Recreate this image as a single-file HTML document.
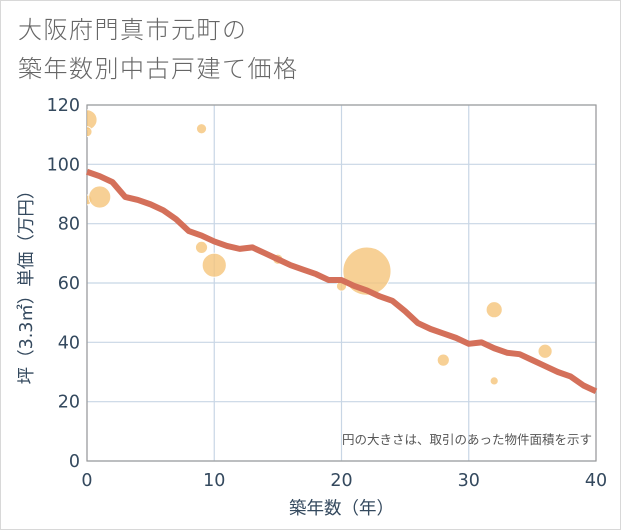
<!DOCTYPE html>
<html><head><meta charset="utf-8"><style>
body{margin:0;background:#fff;font-family:"Liberation Sans","Noto Sans CJK JP",sans-serif;}
#wrap{position:relative;width:619px;height:528px;overflow:hidden;border:1px solid #d8d8d8;}
.title{position:absolute;left:17px;font-size:24px;color:#666;letter-spacing:1.5px;font-family:"Noto Sans CJK JP",sans-serif;font-weight:300;}
</style></head><body>
<div id="wrap">
<div class="title" style="top:9px">大阪府門真市元町の</div>
<div class="title" style="top:48px">築年数別中古戸建て価格</div>
<svg id="svg" width="621" height="530" style="position:absolute;left:-1px;top:-1px"></svg>
</div>
<script>
const lineYears=[0,1,2,3,4,5,6,7,8,9,10,11,12,13,14,15,16,17,18,19,20,21,22,23,24,25,26,27,28,29,30,31,32,33,34,35,36,37,38,39,40];
const linePrices=[97.5,96,94,89,88,86.5,84.5,81.5,77.5,76,74,72.5,71.5,72,70,68,66,64.5,63,61,61,59,57.5,55.5,54,50.5,46.5,44.5,43,41.5,39.5,40,38,36.5,36,34,32,30,28.5,25.5,23.5];
const bubbleYears=[0,0,0,1,9,9,10,15,20,22,28,32,32,36];
const bubblePrices=[115,111,88,89,112,72,66,68,59,64,34,51,27,37];
const bubbleSizes=[10,5,5,11,5,6,12,5,5,24,6,8,4,7];
const xTicks=[0,10,20,30,40];
const yTicks=[0,20,40,60,80,100,120];
const NS="http://www.w3.org/2000/svg";
const svg=document.getElementById('svg');
const X0=87,X1=596,Y0=461,Y1=105;
const sx=v=>X0+(v-0)/40*(X1-X0);
const sy=v=>Y0-(v-0)/120*(Y0-Y1);
const TF='"DejaVu Sans","Noto Sans CJK JP",sans-serif';
function el(t,a){const e=document.createElementNS(NS,t);for(const k in a)e.setAttribute(k,a[k]);svg.appendChild(e);return e;}
const clip=el('clipPath',{id:'pc'});
const cr=document.createElementNS(NS,'rect');cr.setAttribute('x',X0);cr.setAttribute('y',Y1);cr.setAttribute('width',X1-X0);cr.setAttribute('height',Y0-Y1);clip.appendChild(cr);
yTicks.forEach(t=>{
 const g=el('line',{x1:X0,x2:X1,y1:sy(t),y2:sy(t),stroke:'#c8d6e5','stroke-width':1.2});
 
 
 const tx=el('text',{x:X0-7,y:sy(t)+6,'text-anchor':'end','font-size':17.5,fill:'#34495e','font-family':TF});
 tx.textContent=t;
 
 
});
xTicks.forEach(t=>{
 const g=el('line',{x1:sx(t),x2:sx(t),y1:Y1,y2:Y0,stroke:'#c8d6e5','stroke-width':1.2});
 
 
 const tx=el('text',{x:sx(t),y:Y0+25,'text-anchor':'middle','font-size':17.5,fill:'#34495e','font-family':TF});
 tx.textContent=t;
 
 
});
const frame=el('rect',{x:X0,y:Y1,width:X1-X0,height:Y0-Y1,fill:'none',stroke:'#999','stroke-width':1.2});


bubbleYears.forEach((yr,i)=>{
 const c=el('circle',{cx:sx(yr),cy:sy(bubblePrices[i]),r:bubbleSizes[i],fill:'#f5c47a','fill-opacity':0.8,stroke:'#fff','stroke-width':0.8,'clip-path':'url(#pc)'});
 
 
});
const pts=lineYears.map((y,i)=>sx(y)+','+sy(linePrices[i])).join(' ');
const pl=el('polyline',{points:pts,fill:'none',stroke:'#d4705a','stroke-width':6,'stroke-linejoin':'round'});


const note=el('text',{x:X1-4,y:Y0-17,'text-anchor':'end','font-size':12.5,fill:'#555'});
note.textContent='円の大きさは、取引のあった物件面積を示す';


const xt=el('text',{x:(X0+X1)/2,y:514,'text-anchor':'middle','font-size':17.5,fill:'#34495e','font-family':TF});
xt.textContent='築年数（年）';


const yt=el('text',{x:0,y:0,'text-anchor':'middle','font-size':17.5,fill:'#34495e','font-family':TF,transform:'translate(32,'+((Y0+Y1)/2)+') rotate(-90)'});
yt.textContent='坪（3.3㎡）単価（万円）';


</script>
</body></html>
